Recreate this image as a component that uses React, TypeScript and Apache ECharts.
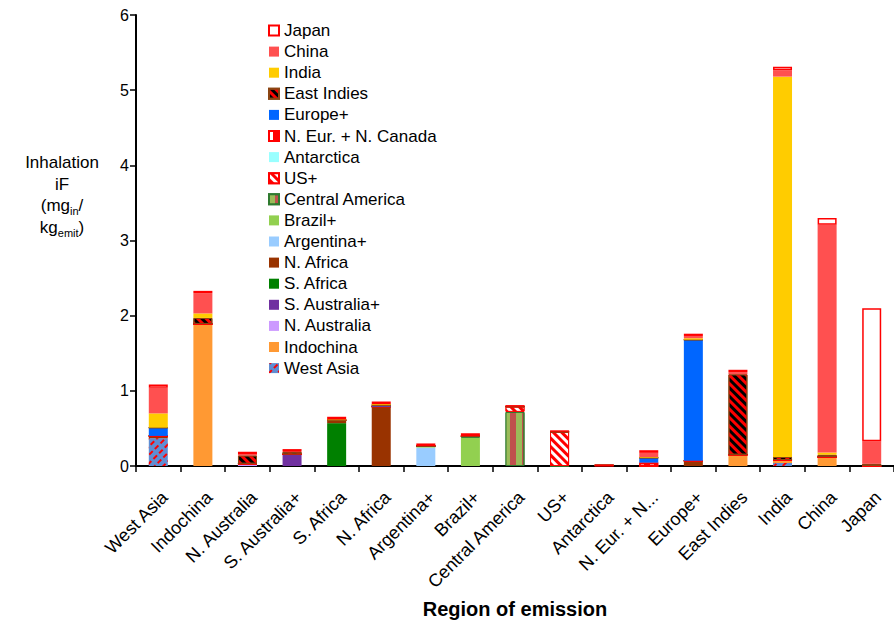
import React, { useEffect, useRef } from 'react';
import * as echarts from 'echarts';

// Emission regions (categories on the x axis)
const regions = [
  'West Asia', 'Indochina', 'N. Australia', 'S. Australia+', 'S. Africa', 'N. Africa',
  'Argentina+', 'Brazil+', 'Central America', 'US+', 'Antarctica', 'N. Eur. + N. Canada',
  'Europe+', 'East Indies', 'India', 'China', 'Japan',
];
// Tick labels as printed under the axis
const tickLabels = [
  'West Asia', 'Indochina', 'N. Australia', 'S. Australia+', 'S. Africa', 'N. Africa',
  'Argentina+', 'Brazil+', 'Central America', 'US+', 'Antarctica', 'N. Eur. + N...',
  'Europe+', 'East Indies', 'India', 'China', 'Japan',
];
const yTicks = [0, 1, 2, 3, 4, 5, 6];

// Receptor-region contributions to inhalation iF, one value per emission region
const westAsia = [0.37, 0, 0, 0, 0, 0, 0, 0, 0, 0, 0, 0, 0, 0, 0.04, 0, 0];
const indochina = [0, 1.89, 0, 0, 0, 0, 0, 0, 0, 0, 0, 0, 0, 0.15, 0.04, 0.12, 0];
const nAustralia = [0, 0, 0.03, 0, 0, 0, 0, 0, 0, 0, 0, 0, 0, 0, 0, 0, 0];
const sAustralia = [0, 0, 0, 0.155, 0, 0, 0, 0, 0, 0, 0, 0, 0, 0, 0, 0, 0];
const sAfrica = [0, 0, 0, 0, 0.57, 0, 0, 0, 0, 0, 0, 0, 0, 0, 0, 0, 0];
const nAfrica = [0.03, 0, 0, 0, 0.04, 0.79, 0, 0, 0, 0, 0.008, 0, 0.07, 0, 0, 0, 0];
const argentina = [0, 0, 0, 0, 0, 0, 0.245, 0, 0, 0, 0, 0, 0, 0, 0, 0, 0];
const brazil = [0, 0, 0, 0, 0, 0, 0.02, 0.377, 0, 0, 0, 0, 0, 0, 0, 0, 0];
const centralAmerica = [0, 0, 0, 0, 0, 0, 0, 0.02, 0.72, 0, 0, 0, 0, 0, 0, 0, 0];
const usPlus = [0, 0, 0, 0, 0, 0, 0, 0, 0.07, 0.455, 0, 0, 0, 0, 0, 0, 0];
const antarctica = [0, 0, 0, 0, 0, 0, 0, 0, 0, 0, 0, 0, 0, 0, 0, 0, 0];
const nEurCanada = [0, 0, 0, 0, 0, 0, 0, 0, 0, 0, 0, 0.045, 0, 0, 0, 0, 0];
const europe = [0.11, 0, 0, 0, 0, 0.02, 0, 0, 0, 0, 0, 0.065, 1.61, 0, 0, 0, 0];
const eastIndies = [0, 0.08, 0.11, 0.035, 0, 0, 0, 0, 0, 0, 0, 0, 0, 1.07, 0.04, 0.03, 0.03];
const india = [0.19, 0.06, 0, 0, 0.01, 0.013, 0, 0, 0, 0, 0, 0.01, 0.02, 0, 5.06, 0.03, 0];
const china = [0.34, 0.27, 0.02, 0, 0, 0, 0, 0, 0, 0, 0, 0.055, 0.03, 0.03, 0.085, 3.03, 0.3];
const japan = [0.045, 0.03, 0.03, 0.035, 0.035, 0.035, 0.035, 0.04, 0.02, 0.02, 0, 0.035, 0.03, 0.03, 0.045, 0.09, 1.77];

const FONT = '"Liberation Sans", Arial, Helvetica, sans-serif';

const stripes = (color: string, rotation: number, on: number, off: number, dashX: number[] = [10, 0]) => ({
  symbol: 'rect',
  symbolSize: 1,
  symbolKeepAspect: false,
  color,
  dashArrayX: [dashX],
  dashArrayY: [on, off],
  rotation,
});

// Stack order: bottom to top
const seriesDefs: { name: string; values: number[]; itemStyle: any }[] = [
  { name: 'West Asia', values: westAsia, itemStyle: { color: '#5f8dd3', decal: stripes('#ff0000', -Math.PI / 4, 2, 4, [5, 3]) } },
  { name: 'Indochina', values: indochina, itemStyle: { color: '#ff9933' } },
  { name: 'N. Australia', values: nAustralia, itemStyle: { color: '#cc99ff' } },
  { name: 'S. Australia+', values: sAustralia, itemStyle: { color: '#7030a0' } },
  { name: 'S. Africa', values: sAfrica, itemStyle: { color: '#008000' } },
  { name: 'N. Africa', values: nAfrica, itemStyle: { color: '#993300' } },
  { name: 'Argentina+', values: argentina, itemStyle: { color: '#99ccff' } },
  { name: 'Brazil+', values: brazil, itemStyle: { color: '#92d050' } },
  {
    name: 'Central America', values: centralAmerica,
    itemStyle: { color: '#c0504d', borderColor: '#2f7a2f', borderWidth: 1, decal: { symbol: 'rect', symbolSize: 1, symbolKeepAspect: false, color: '#9bbb59', dashArrayX: [[6, 6]], dashArrayY: [20, 0] } },
  },
  { name: 'US+', values: usPlus, itemStyle: { color: '#ff0000', borderColor: '#ff0000', borderWidth: 1, decal: stripes('#ffffff', Math.PI / 4, 3, 3) } },
  { name: 'Antarctica', values: antarctica, itemStyle: { color: '#99ffff' } },
  {
    name: 'N. Eur. + N. Canada', values: nEurCanada,
    itemStyle: { color: '#ff0000', borderColor: '#ff0000', borderWidth: 1.5, decal: { symbol: 'rect', symbolSize: 1, symbolKeepAspect: false, color: '#ffffff', dashArrayX: [[4, 6]], dashArrayY: [20, 0] } },
  },
  { name: 'Europe+', values: europe, itemStyle: { color: '#0066ff' } },
  { name: 'East Indies', values: eastIndies, itemStyle: { color: '#000000', borderColor: '#8b4513', borderWidth: 1, decal: stripes('#ff0000', Math.PI / 4, 3, 3) } },
  { name: 'India', values: india, itemStyle: { color: '#ffcc00' } },
  { name: 'China', values: china, itemStyle: { color: '#ff5050' } },
  { name: 'Japan', values: japan, itemStyle: { color: '#ffffff', borderColor: '#ff0000', borderWidth: 1.5 } },
];

export default function App() {
  const ref = useRef<HTMLDivElement>(null);

  useEffect(() => {
    if (!ref.current) return;
    const chart = echarts.init(ref.current, null, { renderer: 'svg' });

    const option: any = {
      animation: false,
      backgroundColor: '#ffffff',
      textStyle: { fontFamily: FONT },
      grid: { left: 136, top: 15, width: 767, height: 451, containLabel: false },
      legend: {
        orient: 'vertical',
        left: 268,
        top: 22,
        padding: 0,
        itemGap: 4.1,
        itemWidth: 10,
        itemHeight: 10,
        icon: 'rect',
        selectedMode: false,
        data: [...seriesDefs].reverse().map((s) => s.name),
        textStyle: { fontFamily: FONT, fontSize: 17, lineHeight: 17, color: '#000' },
      },
      xAxis: {
        type: 'category',
        data: tickLabels,
        axisLine: { lineStyle: { color: '#000', width: 2 } },
        axisTick: { show: true, length: 6, lineStyle: { color: '#000', width: 1.5 } },
        axisLabel: {
          interval: 0, rotate: 45, margin: 22, fontSize: 18, color: '#000', fontFamily: FONT,
          verticalAlign: 'top',
        },
        name: 'Region of emission',
        nameLocation: 'middle',
        nameGap: 132,
        nameTextStyle: { fontSize: 20, fontWeight: 'bold', color: '#000', fontFamily: FONT },
      },
      yAxis: {
        type: 'value',
        min: yTicks[0],
        max: yTicks[yTicks.length - 1],
        interval: 1,
        splitLine: { show: false },
        axisLine: { show: true, lineStyle: { color: '#000', width: 2 } },
        axisTick: { show: true, length: 6, lineStyle: { color: '#000', width: 1.5 } },
        axisLabel: { fontSize: 16, color: '#000', margin: 7, fontFamily: FONT },
      },
      graphic: [
        {
          type: 'text',
          x: 62,
          y: 152,
          style: {
            text: 'Inhalation\niF\n(mg{sub|in}/\nkg{sub|emit})',
            fontFamily: FONT,
            fontSize: 17,
            lineHeight: 21.5,
            fill: '#000',
            align: 'center',
            verticalAlign: 'top',
            rich: {
              sub: { fontSize: 11, fontFamily: FONT, lineHeight: 14, verticalAlign: 'bottom', fill: '#000' },
            },
          },
        },
      ],
      series: seriesDefs.map((s) => ({
        name: s.name,
        type: 'bar',
        stack: 'total',
        barWidth: 19,
        data: s.values,
        itemStyle: s.itemStyle,
        emphasis: { disabled: true },
      })),
    };

    chart.setOption(option);
    return () => chart.dispose();
  }, []);

  return <div ref={ref} style={{ position: 'fixed', left: 0, top: 0, width: 894, height: 626 }} />;
}
